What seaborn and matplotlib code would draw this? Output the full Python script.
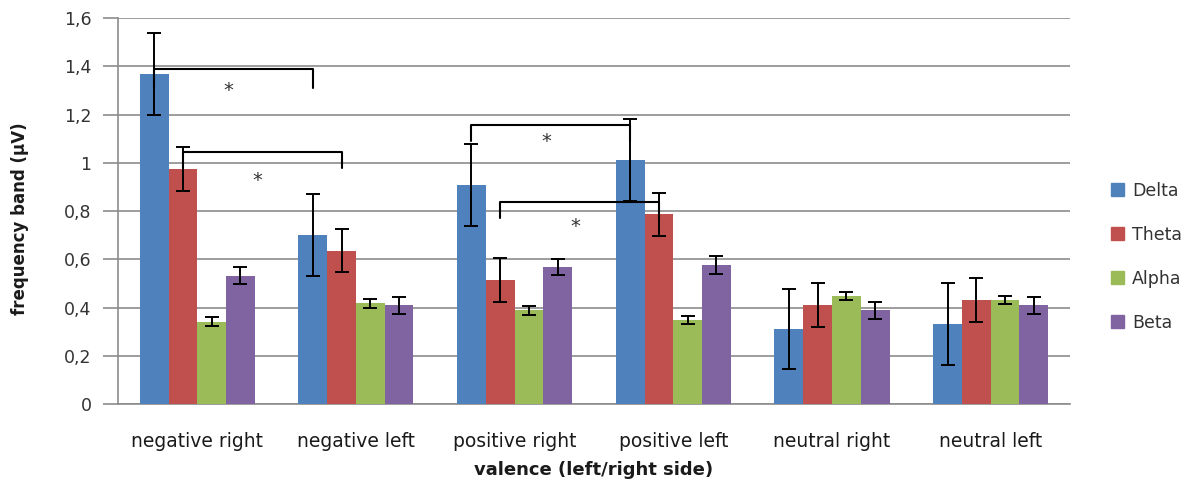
import numpy as np
import pandas as pd
import matplotlib
matplotlib.use("Agg")
import matplotlib.pyplot as plt
import seaborn as sns

categories = ["negative right", "negative left", "positive right",
              "positive left", "neutral right", "neutral left"]
bands = ["Delta", "Theta", "Alpha", "Beta"]

delta = [1.37, 0.70, 0.91, 1.01, 0.31, 0.33]
theta = [0.975, 0.636, 0.515, 0.786, 0.41, 0.431]
alpha = [0.342, 0.417, 0.388, 0.349, 0.448, 0.431]
beta = [0.532, 0.41, 0.569, 0.578, 0.388, 0.41]

delta_err = [0.17, 0.17, 0.17, 0.17, 0.165, 0.17]
theta_err = [0.09, 0.09, 0.09, 0.09, 0.09, 0.09]
alpha_err = [0.019, 0.018, 0.018, 0.018, 0.018, 0.015]
beta_err = [0.035, 0.035, 0.033, 0.037, 0.035, 0.035]

yticks = [0, 0.2, 0.4, 0.6, 0.8, 1.0, 1.2, 1.4, 1.6]
ytick_labels = ["0", "0,2", "0,4", "0,6", "0,8", "1", "1,2", "1,4", "1,6"]

# significance brackets: (band, from category, to category, top y, drop y)
brackets = [
    ("Delta", 0, 1, 1.389, 1.31),
    ("Theta", 0, 1, 1.045, 0.978),
    ("Delta", 2, 3, 1.157, 1.09),
    ("Theta", 2, 3, 0.837, 0.77),
]
star_y = [1.30, 0.925, 1.09, 0.735]

colors = ["#4F81BD", "#C0504D", "#9BBB59", "#8064A2"]

values = {"Delta": delta, "Theta": theta, "Alpha": alpha, "Beta": beta}
errs = {"Delta": delta_err, "Theta": theta_err, "Alpha": alpha_err, "Beta": beta_err}

rows = []
for b in bands:
    for c, v in zip(categories, values[b]):
        rows.append({"valence": c, "band": b, "value": v})
df = pd.DataFrame(rows)

sns.set_theme(style="white")
plt.rcParams["font.family"] = ["DejaVu Sans"]

fig = plt.figure(figsize=(11.95, 4.88), dpi=100)
ax = fig.add_axes([0.0987, 0.172, 0.7967, 0.791])

sns.barplot(data=df, x="valence", y="value", hue="band", order=categories,
            hue_order=bands, palette=colors, width=0.725, errorbar=None,
            saturation=1, ax=ax, zorder=3, legend=True)

centers = {}
patches = list(ax.patches)[:len(bands) * len(categories)]
for i, b in enumerate(bands):
    ps = patches[i * len(categories):(i + 1) * len(categories)]
    for p in ps:
        p.set_edgecolor("none")
    centers[b] = [p.get_x() + p.get_width() / 2 for p in ps]
    ax.errorbar(centers[b], values[b], yerr=errs[b], fmt="none",
                ecolor="black", elinewidth=1.4, capsize=5, capthick=1.4,
                zorder=5)

for (b, i0, i1, ytop, ydrop), sy in zip(brackets, star_y):
    x0 = centers[b][i0]
    x1 = centers[b][i1]
    ax.plot([x0, x0, x1, x1], [ydrop, ytop, ytop, ydrop], color="black",
            lw=1.5, zorder=6, solid_joinstyle="round")
    ax.text((x0 + x1) / 2 - 0.03, sy, "*", ha="center", va="center",
            fontsize=14, color="#333333", zorder=6)

ax.set_ylim(0, 1.6)
ax.set_xlim(-0.5, 5.5)
ax.set_yticks(yticks)
ax.set_yticklabels(ytick_labels)
ax.yaxis.grid(True, color="#8c8c8c", linewidth=1.2, zorder=0)
ax.set_axisbelow(True)
for s in ["top", "right"]:
    ax.spines[s].set_visible(False)
ax.spines["left"].set_color("#8c8c8c")
ax.spines["bottom"].set_color("#8c8c8c")
ax.spines["left"].set_linewidth(1.2)
ax.spines["bottom"].set_linewidth(1.2)
ax.tick_params(axis="y", left=True, length=11, width=1.2, color="#8c8c8c",
               labelsize=12.5, labelcolor="#333333", pad=8)
ax.tick_params(axis="x", bottom=False, labelsize=13.5, labelcolor="#1a1a1a", pad=14)

ax.set_xlabel("valence (left/right side)", fontsize=13, fontweight="bold",
              color="#1a1a1a", labelpad=7)
ax.set_ylabel("frequency band (\u00b5V)", fontsize=12, fontweight="bold",
              color="#1a1a1a")
ax.yaxis.set_label_coords(-0.093, 0.479)

leg = ax.get_legend()
if leg is not None:
    leg.remove()
handles = [plt.Rectangle((0, 0), 1, 1, color=c) for c in colors]
fig.legend(handles, bands, loc="center left", bbox_to_anchor=(0.917, 0.474),
           frameon=False, fontsize=12.5, labelspacing=1.5, handlelength=0.75,
           handleheight=0.75, handletextpad=0.45, labelcolor="#333333")

fig.savefig("out.png", dpi=100, facecolor="white")
